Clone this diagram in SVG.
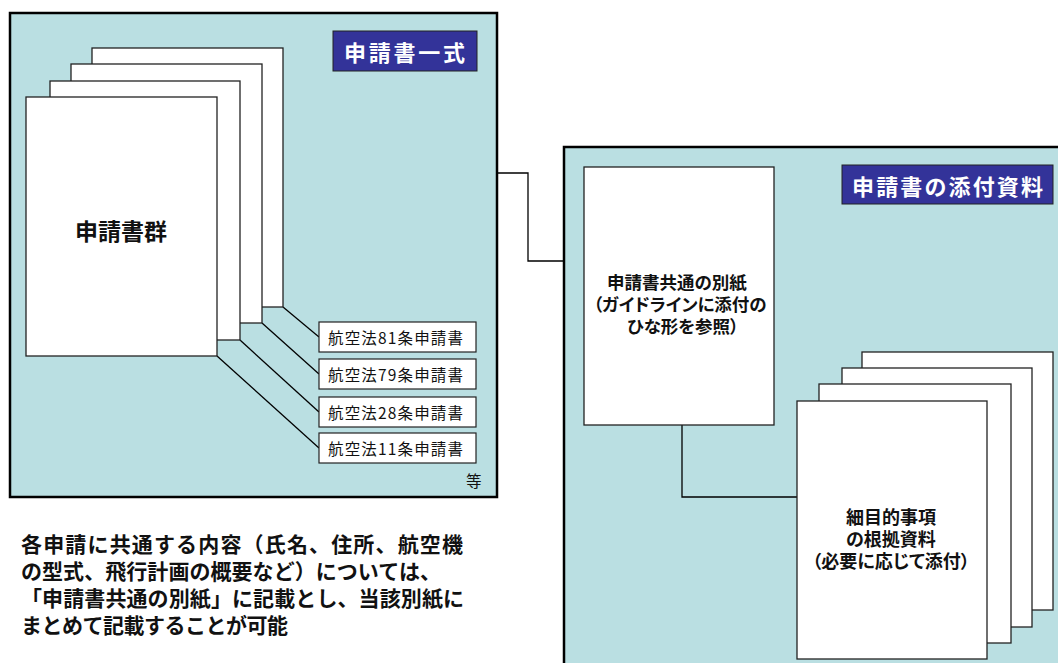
<svg xmlns="http://www.w3.org/2000/svg" width="1058" height="663" viewBox="0 0 1058 663">
<style>
.panel{fill:#BADFE2;stroke:#000;stroke-width:2.5}
.page{fill:#fff;stroke:#222;stroke-width:1.3}
.title{fill:#333399;stroke:#222;stroke-width:1}
.tt{font-family:"Noto Sans CJK JP","Noto Sans",sans-serif;font-weight:bold;font-size:22px;fill:#fff;dominant-baseline:central}
.bt{font-family:"Noto Sans CJK JP","Noto Sans",sans-serif;font-weight:bold;fill:#111;dominant-baseline:central;text-anchor:middle;font-feature-settings:"palt"}
.bm{font-family:"Liberation Sans","Noto Sans CJK JP",sans-serif;font-weight:bold;fill:#111;text-anchor:middle;font-feature-settings:"palt"}
.lb{fill:#fff;stroke:#222;stroke-width:1.2}
.lt{font-family:"Noto Sans CJK JP","Noto Sans",sans-serif;font-size:15.5px;fill:#111;dominant-baseline:central}
.note{font-family:"Liberation Sans","Noto Sans CJK JP",sans-serif;font-weight:bold;font-size:21px;fill:#111}
.conn{fill:none;stroke:#000;stroke-width:1.3}
</style>
<rect width="1058" height="663" fill="#fff"/>

<g id="panel-left">
<rect class="panel" x="10" y="13" width="487" height="484"/>
<rect class="title" x="333" y="31" width="144" height="40"/>
<text class="tt" x="344" y="51" textLength="121">申請書一式</text>
</g>

<g id="panel-right">
<rect class="panel" x="564" y="147" width="500" height="530"/>
<rect class="title" x="842" y="165" width="211" height="39"/>
<text class="tt" x="852" y="185" textLength="191">申請書の添付資料</text>
</g>

<g id="connectors">
<polyline class="conn" points="497,173 528,173 528,261 564,261"/>
<polyline class="conn" points="682,425 682,497 797,497"/>
<line class="conn" x1="283" y1="307" x2="319" y2="337"/>
<line class="conn" x1="262" y1="323" x2="319" y2="374"/>
<line class="conn" x1="240" y1="340" x2="319" y2="412"/>
<line class="conn" x1="217" y1="356" x2="319" y2="448"/>
</g>

<g id="shinseisho-gun">
<rect class="page" x="92" y="48" width="191" height="259"/>
<rect class="page" x="71" y="64" width="191" height="259"/>
<rect class="page" x="50" y="81" width="190" height="259"/>
<rect class="page" x="26" y="97" width="191" height="259"/>
<text class="bt" x="121" y="230" font-size="23">申請書群</text>
</g>

<g id="label-81">
<rect class="lb" x="319" y="322" width="157" height="30"/>
<text class="lt" x="328" y="337" textLength="135">航空法81条申請書</text>
</g>
<g id="label-79">
<rect class="lb" x="319" y="359" width="157" height="30"/>
<text class="lt" x="328" y="374" textLength="135">航空法79条申請書</text>
</g>
<g id="label-28">
<rect class="lb" x="319" y="397" width="157" height="30"/>
<text class="lt" x="328" y="412" textLength="135">航空法28条申請書</text>
</g>
<g id="label-11">
<rect class="lb" x="319" y="433" width="157" height="30"/>
<text class="lt" x="328" y="448" textLength="135">航空法11条申請書</text>
</g>
<g id="etc">
<text class="lt" x="466" y="480" font-size="13">等</text>
</g>

<g id="bessi">
<rect class="page" x="584" y="167" width="190" height="258"/>
<text class="bm" font-size="17.5"><tspan x="677" y="288.5">申請書共通の別紙</tspan><tspan x="680" y="310.5">（ガイドラインに添付の</tspan><tspan x="683" y="332.5">ひな形を参照）</tspan></text>
</g>

<g id="konkyo">
<rect class="page" x="862" y="352" width="191" height="258"/>
<rect class="page" x="842" y="368" width="190" height="259"/>
<rect class="page" x="819" y="384" width="192" height="259"/>
<rect class="page" x="797" y="401" width="190" height="258"/>
<text class="bm" font-size="18"><tspan x="891" y="523.5">細目的事項</tspan><tspan x="891" y="545.5">の根拠資料</tspan><tspan x="891" y="567.5">（必要に応じて添付）</tspan></text>
</g>

<g id="note">
<text class="note"><tspan x="21" y="552" textLength="442">各申請に共通する内容（氏名、住所、航空機</tspan><tspan x="21" y="579" textLength="420">の型式、飛行計画の概要など）については、</tspan><tspan x="21" y="606" textLength="443">「申請書共通の別紙」に記載とし、当該別紙に</tspan><tspan x="21" y="633" textLength="267">まとめて記載することが可能</tspan></text>
</g>
</svg>
